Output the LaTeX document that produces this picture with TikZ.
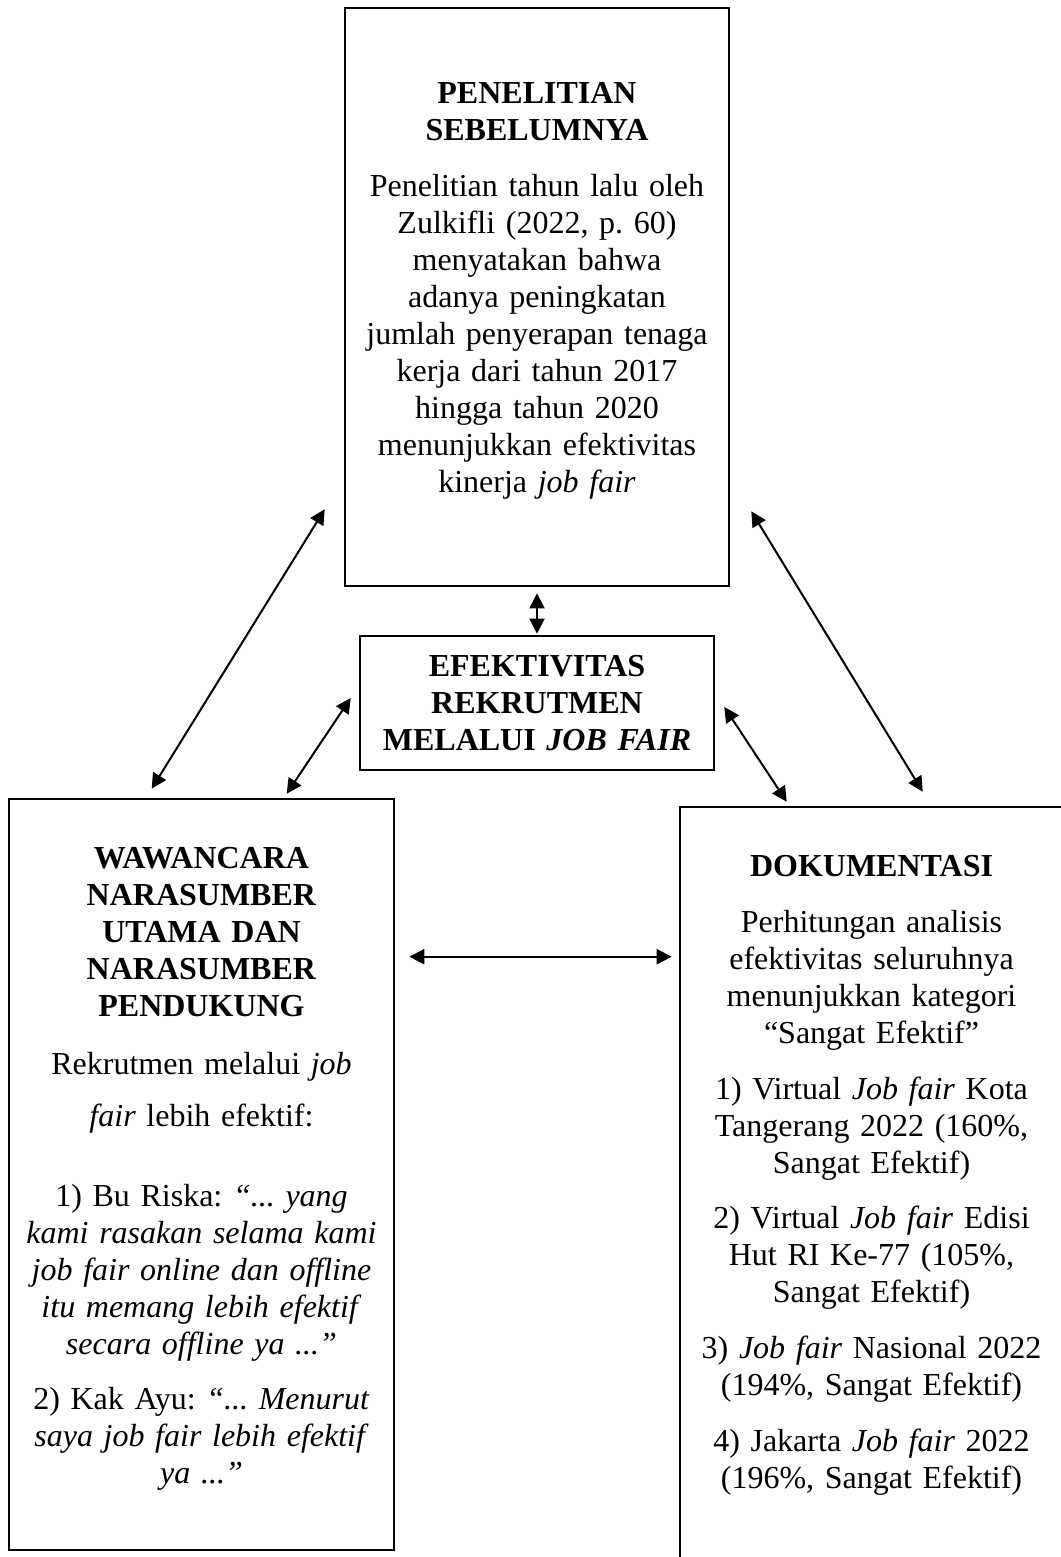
\documentclass[tikz,border=0pt]{standalone}
\usepackage{fontspec}
\setmainfont{Liberation Serif}
\usepackage{tikz}
\usepackage{xcolor}
\usetikzlibrary{arrows.meta}
\frenchspacing

\tikzset{
  kotak/.style={rectangle, draw=black, line width=1.3pt, inner sep=2pt, align=center, font=\fontsize{16}{18.5}\selectfont},
  ruangbawah/.style={execute at end node={\par\vspace{#1}}},
  panah/.style={{Triangle[length=7.5pt,width=7.5pt]}-{Triangle[length=7.5pt,width=7.5pt]}, line width=1pt}
}

\begin{document}
\begin{tikzpicture}[x=0.5pt, y=-0.5pt]
\useasboundingbox (0,0) rectangle (1060,1557);

\node[kotak, ruangbawah=6pt, text width=185pt, minimum width=192pt, minimum height=289pt] (PS) at (537,297) {
\textbf{PENELITIAN}\\
\textbf{SEBELUMNYA}\\[9.5pt]
Penelitian tahun lalu oleh\\
Zulkifli (2022, p. 60)\\
menyatakan bahwa\\
adanya peningkatan\\
jumlah penyerapan tenaga\\
kerja dari tahun 2017\\
hingga tahun 2020\\
menunjukkan efektivitas\\
kinerja \textit{job fair}
};

\node[kotak, text width=170pt, minimum width=177pt, minimum height=67pt] (ER) at (537,703) {
\textbf{EFEKTIVITAS}\\
\textbf{REKRUTMEN}\\
\textbf{MELALUI \textit{JOB FAIR}}
};

\node[kotak, ruangbawah=6pt, text width=185pt, minimum width=192.5pt, minimum height=375.5pt] (WN) at (201.5,1174.5) {
\textbf{WAWANCARA}\\
\textbf{NARASUMBER}\\
\textbf{UTAMA DAN}\\
\textbf{NARASUMBER}\\
\textbf{PENDUKUNG}\\[10.5pt]
Rekrutmen melalui \textit{job}\\[7.5pt]
\textit{fair} lebih efektif:\\[21.5pt]
1) Bu Riska: \textit{“... yang}\\
\textit{kami rasakan selama kami}\\
\textit{job fair online dan offline}\\
\textit{itu memang lebih efektif}\\
\textit{secara offline ya ...”}\\[9pt]
2) Kak Ayu: \textit{“... Menurut}\\
\textit{saya job fair lebih efektif}\\
\textit{ya ...”}
};

\node[kotak, ruangbawah=8.5pt, text width=185pt, minimum width=191.5pt, minimum height=376.5pt] (DK) at (871.5,1183.5) {
\textbf{DOKUMENTASI}\\[9.8pt]
Perhitungan analisis\\
efektivitas seluruhnya\\
menunjukkan kategori\\
“Sangat Efektif”\\[9.3pt]
1) Virtual \textit{Job fair} Kota\\
Tangerang 2022 (160\%,\\
Sangat Efektif)\\[9.3pt]
2) Virtual \textit{Job fair} Edisi\\
Hut RI Ke-77 (105\%,\\
Sangat Efektif)\\[9.3pt]
3) \textit{Job fair} Nasional 2022\\
(194\%, Sangat Efektif)\\[9.3pt]
4) Jakarta \textit{Job fair} 2022\\
(196\%, Sangat Efektif)
};

\draw[panah, shorten <=3pt, shorten >=0.5pt] (PS.south) -- (ER.north);
\draw[panah] ([shift={(-19,-78)}]PS.south west) -- ([shift={(144,-9)}]WN.north west);
\draw[panah] ([shift={(21,-76)}]PS.south east) -- ([shift={(244,-14)}]DK.north west);
\draw[panah] ([shift={(-8,-5)}]ER.west) -- ([shift={(279,-4)}]WN.north west);
\draw[panah] ([shift={(9,4)}]ER.east) -- ([shift={(108,-4)}]DK.north west);
\draw[panah] ([shift={(14,159)}]WN.north east) -- ([shift={(-7,151)}]DK.north west);
\end{tikzpicture}
\end{document}
